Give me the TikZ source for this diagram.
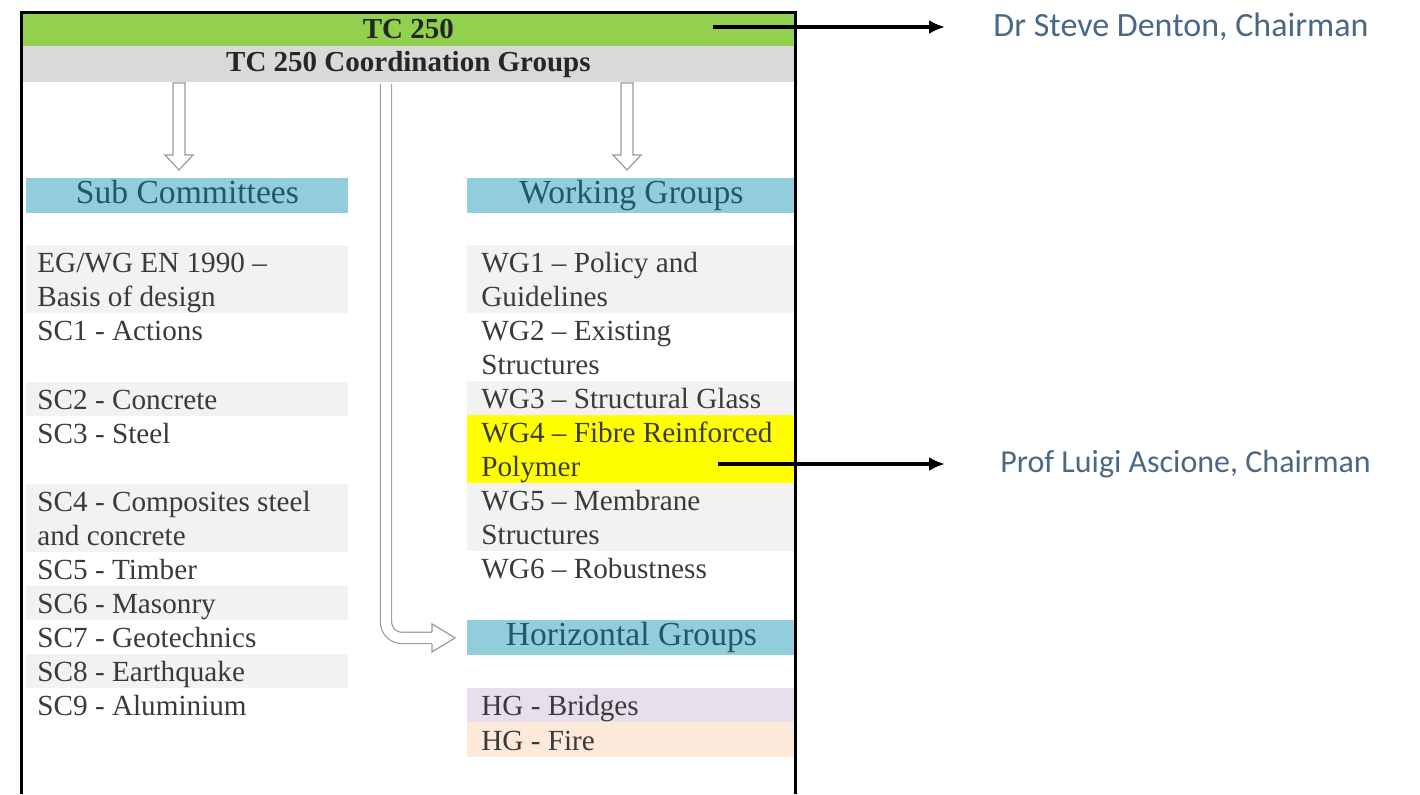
\documentclass[tikz,border=0pt]{standalone}
\usepackage{fontspec}
\setmainfont{Liberation Serif}
\newfontfamily\chairfont{Carlito}
\usetikzlibrary{arrows.meta,positioning}
\definecolor{tcgreen}{HTML}{92D050}
\definecolor{cggray}{HTML}{D9D9D9}
\definecolor{hdrblue}{HTML}{92CDDC}
\definecolor{hdrtext}{HTML}{215868}
\definecolor{rowgray}{HTML}{F2F2F2}
\definecolor{rowtext}{HTML}{3A3A3A}
\definecolor{wgyellow}{HTML}{FFFF00}
\definecolor{hglilac}{HTML}{E5E0EC}
\definecolor{hgpeach}{HTML}{FDE9D9}
\definecolor{chairblue}{HTML}{4A6785}

\begin{document}
\begin{tikzpicture}[x=0.5pt,y=-0.5pt,
  bar/.style={anchor=north west,minimum width=387pt,minimum height=17pt,inner sep=0pt,text=black!85,font=\fontsize{14.5}{17}\selectfont\bfseries},
  hdr/.style={anchor=north west,fill=hdrblue,text=hdrtext,minimum height=17.5pt,inner sep=0pt,text height=11.5pt,text depth=3.5pt,font=\fontsize{16.8}{18}\selectfont},
  scrow/.style={anchor=north west,text width=150pt,inner xsep=5.5pt,inner ysep=0pt,align=flush left,text=rowtext,font=\fontsize{14.6}{17}\selectfont},
  wgrow/.style={scrow,text width=150pt,inner xsep=7pt},
  one/.style={minimum height=17pt,text height=12.5pt,text depth=2pt},
  two/.style={minimum height=34pt,text height=12.5pt,text depth=19pt},
  hollow/.style={draw=gray!80,fill=white,line width=0.6pt},
  chair/.style={line width=2.3pt,-{Latex[length=8pt,width=7pt]}},
  chairname/.style={anchor=west,inner sep=0pt,text=chairblue,font=\chairfont\fontsize{17}{20}\selectfont}]
\useasboundingbox (0,0) rectangle (1420,794);

\node[bar,fill=tcgreen] (tc) at (21,12) {TC 250};
\node[bar,fill=cggray,minimum height=18pt] (cgroups) at (21,46) {TC 250 Coordination Groups};

\node[hdr,minimum width=161pt] (schdr) at (26,178) {Sub Committees};
\node[hdr,minimum width=164pt] (wghdr) at (467,178) {Working Groups};
\node[hdr,minimum width=164pt] (hghdr) at (467,620) {Horizontal Groups};

\node[scrow,two,fill=rowgray] (eg) at (26,245) {EG/WG EN 1990 --\\Basis of design};
\node[scrow,one] (sc1) at (26,313) {SC1 - Actions};
\node[scrow,one,fill=rowgray] (sc2) at (26,382) {SC2 - Concrete};
\node[scrow,one] (sc3) at (26,416) {SC3 - Steel};
\node[scrow,two,fill=rowgray] (sc4) at (26,484) {SC4 - Composites steel\\and concrete};
\node[scrow,one] (sc5) at (26,552) {SC5 - Timber};
\node[scrow,one,fill=rowgray] (sc6) at (26,586) {SC6 - Masonry};
\node[scrow,one] (sc7) at (26,620) {SC7 - Geotechnics};
\node[scrow,one,fill=rowgray] (sc8) at (26,654) {SC8 - Earthquake};
\node[scrow,one] (sc9) at (26,688) {SC9 - Aluminium};

\node[wgrow,two,fill=rowgray] (wg1) at (467,245) {WG1 -- Policy and\\Guidelines};
\node[wgrow,two] (wg2) at (467,313) {WG2 -- Existing\\Structures};
\node[wgrow,one,fill=rowgray] (wg3) at (467,381) {WG3 -- Structural Glass};
\node[wgrow,two,fill=wgyellow] (wg4) at (467,415) {WG4 -- Fibre Reinforced\\Polymer};
\node[wgrow,two,fill=rowgray] (wg5) at (467,483) {WG5 -- Membrane\\Structures};
\node[wgrow,one] (wg6) at (467,551) {WG6 -- Robustness};
\node[wgrow,one,fill=hglilac] (hgb) at (467,688) {HG - Bridges};
\node[wgrow,one,minimum height=17.5pt,fill=hgpeach] (hgf) at (467,722) {HG - Fire};

\draw[line width=1.5pt] (21,794) -- (21,12) -- (795,12) -- (795,794);

\coordinate (sctop) at (179,83);
\coordinate (wgtop) at (627,83);
\foreach \top in {sctop,wgtop}
  \draw[hollow] (\top) ++(-6,0) -- ++(0,72) -- ++(-8,0) -- ++(14,15) -- ++(14,-15) -- ++(-8,0) -- ++(0,-72) -- cycle;

\coordinate (hgtop) at (386,84);
\coordinate (hgtip) at ([xshift=-6pt]hghdr.west);
\draw[draw=gray!80,line width=0.6pt,double=white,double distance=5pt,rounded corners=8pt] (hgtop) |- ([xshift=-11pt]hgtip);
\filldraw[hollow] (hgtip) ++(-23,-6) -- ++(0,-8) -- ++(23,14) -- ++(-23,14) -- ++(0,-8);

\node[chairname] (denton) at (993,27) {Dr Steve Denton, Chairman};
\node[chairname,font=\chairfont\fontsize{16}{20}\selectfont] (ascione) at (1000,464) {Prof Luigi Ascione, Chairman};
\coordinate (tcfrom) at (713,27);
\coordinate (wg4from) at (718,464);
\draw[chair,shorten >=24pt] (tcfrom) -- (denton.west);
\draw[chair,shorten >=27.5pt] (wg4from) -- (ascione.west);
\end{tikzpicture}
\end{document}
